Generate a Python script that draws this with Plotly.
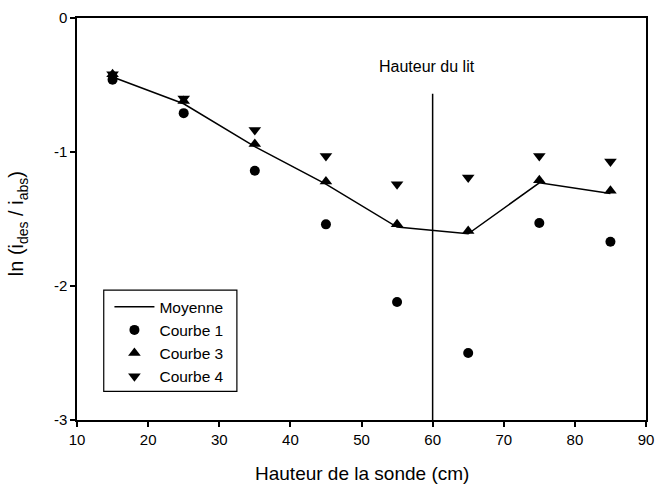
import plotly.graph_objects as go

# Probe heights (cm)
hauteur = [15, 25, 35, 45, 55, 65, 75, 85]

# ln(i_des / i_abs) for each series
moyenne = [-0.44, -0.64, -0.96, -1.24, -1.56, -1.61, -1.23, -1.31]
courbe_1 = [-0.46, -0.71, -1.14, -1.54, -2.12, -2.50, -1.53, -1.67]
courbe_3 = [-0.42, -0.62, -0.94, -1.22, -1.54, -1.59, -1.21, -1.29]
courbe_4 = [-0.42, -0.60, -0.835, -1.03, -1.24, -1.19, -1.03, -1.07]

# Bed height marker
bed_height = 60
bed_line_top = -0.565
bed_label = "Hauteur du lit"
bed_label_pos = (59.2, -0.36)

x_ticks = [10, 20, 30, 40, 50, 60, 70, 80, 90]
y_ticks = [0, -1, -2, -3]
y_ticklabels = ["0", "-1", "-2", "-3"]

x_title = "Hauteur de la sonde (cm)"
y_title = "ln (i<sub>des</sub> / i<sub>abs</sub>)"

FONT = "Liberation Sans, Arial, Helvetica, sans-serif"

fig = go.Figure()

fig.add_trace(go.Scatter(
    x=hauteur, y=moyenne, mode="lines", name="Moyenne",
    line=dict(color="black", width=1.5),
))
fig.add_trace(go.Scatter(
    x=hauteur, y=courbe_1, mode="markers", name="Courbe 1",
    marker=dict(symbol="circle", color="black", size=10),
))
fig.add_trace(go.Scatter(
    x=hauteur, y=courbe_3, mode="markers", name="Courbe 3",
    marker=dict(symbol="triangle-up", color="black", size=11),
))
fig.add_trace(go.Scatter(
    x=hauteur, y=courbe_4, mode="markers", name="Courbe 4",
    marker=dict(symbol="triangle-down", color="black", size=11),
))

# Vertical line at the bed height
fig.add_trace(go.Scatter(
    x=[bed_height, bed_height], y=[bed_line_top, y_ticks[-1]], mode="lines",
    line=dict(color="black", width=1.5), showlegend=False, hoverinfo="skip",
))

fig.add_annotation(
    x=bed_label_pos[0], y=bed_label_pos[1], text=bed_label, showarrow=False,
    font=dict(family=FONT, size=16, color="black"),
)

# Axis titles
fig.add_annotation(
    xref="paper", yref="paper", x=0.5, y=-0.132, text=x_title,
    showarrow=False, xanchor="center", yanchor="middle",
    font=dict(family=FONT, size=19, color="black"),
)
fig.add_annotation(
    xref="paper", yref="paper", x=-0.104, y=0.489, text=y_title,
    showarrow=False, xanchor="center", yanchor="middle", textangle=-90,
    font=dict(family=FONT, size=20, color="black"),
)

# Legend frame
fig.add_shape(
    type="rect", xref="paper", yref="paper",
    x0=0.047, x1=0.281, y0=0.071, y1=0.323,
    line=dict(color="black", width=1.2), fillcolor="white", layer="below",
)

axis_common = dict(
    showgrid=False, zeroline=False, showline=True, linecolor="black",
    linewidth=1.5, mirror=True, ticks="outside", ticklen=5, tickwidth=1.5,
    tickcolor="black", tickfont=dict(family=FONT, size=15, color="black"),
)

fig.update_xaxes(range=[x_ticks[0], x_ticks[-1]], tickvals=x_ticks, **axis_common)
fig.update_yaxes(
    range=[y_ticks[-1], y_ticks[0]], tickvals=y_ticks, ticktext=y_ticklabels,
    **axis_common,
)

fig.update_layout(
    width=663, height=492,
    margin=dict(l=77, r=9, t=11, b=72),
    paper_bgcolor="white", plot_bgcolor="white",
    font=dict(family=FONT, color="black"),
    legend=dict(
        x=0.057, y=0.323, xanchor="left", yanchor="top",
        borderwidth=0, bgcolor="rgba(0,0,0,0)",
        font=dict(family=FONT, size=15.5, color="black"),
        itemwidth=40, tracegroupgap=0,
    ),
)

fig.write_html("out.html")
